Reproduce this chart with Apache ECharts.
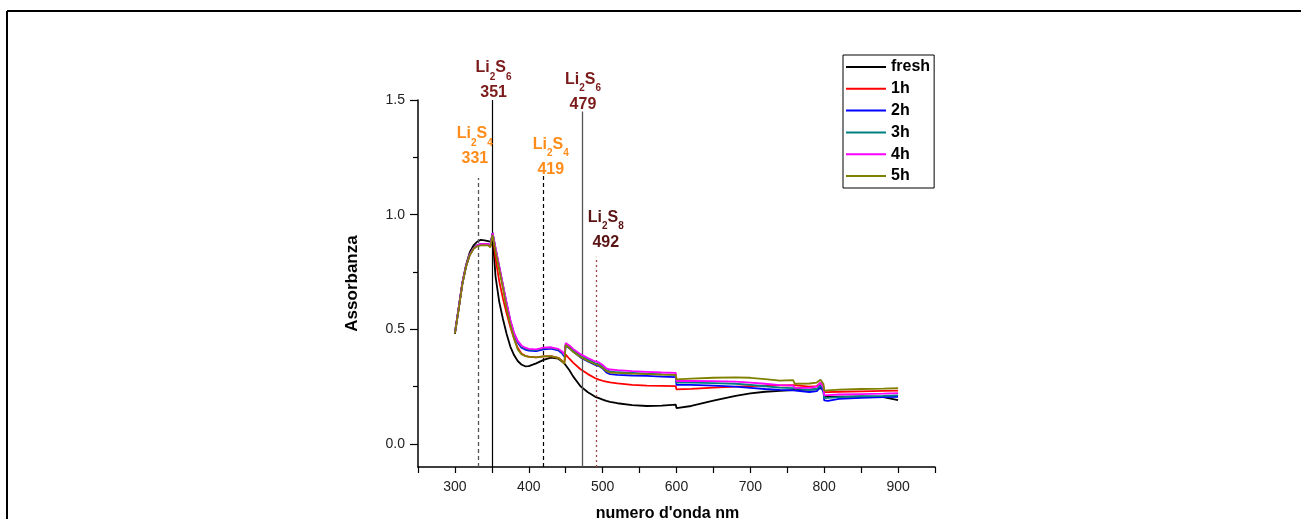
<!DOCTYPE html>
<html>
<head>
<meta charset="utf-8">
<script src="https://cdn.jsdelivr.net/npm/echarts@6/dist/echarts.min.js"></script>
<style>
html,body{margin:0;padding:0;background:#fff;}
#chart{width:1301px;height:519px;}
</style>
</head>
<body>
<div id="chart"></div>
<script>
// ---- data ----
const wavelengths = [300,305,310,315,320,325,330,335,340,345,348,350,351,
  355,360,365,370,375,380,385,390,395,400,
  410,420,430,440,445,448,450,455,460,
  470,480,490,495,500,505,510,520,540,560,580,599,
  600,620,650,680,700,720,740,758,760,780,790,795,799,800,805,820,850,880,900];

const fresh = [0.48,0.59,0.70,0.78,0.835,0.865,0.882,0.89,0.888,0.885,0.882,0.89,0.91,
  0.73,0.62,0.545,0.48,0.425,0.388,0.362,0.347,0.339,0.34,
  0.352,0.367,0.377,0.372,0.36,0.352,0.345,0.322,0.295,
  0.252,0.226,0.206,0.2,0.194,0.188,0.184,0.178,0.17,0.166,0.168,0.172,
  0.157,0.166,0.189,0.21,0.221,0.228,0.232,0.235,0.235,0.237,0.239,0.244,0.236,0.208,0.206,0.207,0.208,0.205,0.192];

const h1 = [0.485,0.59,0.70,0.775,0.825,0.852,0.866,0.872,0.873,0.872,0.862,0.858,0.915,
  0.81,0.71,0.635,0.57,0.51,0.46,0.42,0.395,0.385,0.381,
  0.378,0.382,0.383,0.376,0.363,0.352,0.39,0.372,0.355,
  0.326,0.305,0.287,0.281,0.276,0.272,0.269,0.265,0.258,0.255,0.254,0.253,
  0.238,0.241,0.246,0.25,0.253,0.255,0.256,0.257,0.25,0.25,0.253,0.266,0.25,0.226,0.226,0.228,0.23,0.232,0.233];

const h2 = [0.485,0.59,0.70,0.775,0.825,0.852,0.866,0.872,0.873,0.872,0.864,0.86,0.92,
  0.85,0.77,0.69,0.61,0.535,0.478,0.443,0.42,0.412,0.407,
  0.405,0.413,0.416,0.408,0.396,0.382,0.43,0.418,0.403,
  0.378,0.36,0.345,0.34,0.33,0.312,0.305,0.302,0.299,0.297,0.294,0.292,
  0.258,0.258,0.255,0.25,0.245,0.24,0.236,0.234,0.227,0.227,0.231,0.25,0.228,0.19,0.188,0.197,0.202,0.205,0.206];

const h3 = [0.485,0.59,0.70,0.775,0.825,0.852,0.866,0.872,0.873,0.872,0.864,0.86,0.92,
  0.852,0.772,0.692,0.612,0.538,0.481,0.447,0.425,0.417,0.412,
  0.41,0.418,0.42,0.412,0.4,0.386,0.435,0.423,0.41,
  0.385,0.368,0.352,0.348,0.338,0.322,0.317,0.313,0.31,0.307,0.304,0.302,
  0.268,0.268,0.266,0.263,0.258,0.252,0.246,0.244,0.236,0.236,0.24,0.258,0.235,0.2,0.201,0.205,0.208,0.21,0.212];

const h4 = [0.485,0.59,0.70,0.775,0.825,0.852,0.866,0.872,0.873,0.872,0.866,0.862,0.92,
  0.855,0.775,0.695,0.615,0.542,0.485,0.45,0.43,0.42,0.415,
  0.413,0.42,0.422,0.415,0.404,0.39,0.44,0.43,0.415,
  0.392,0.375,0.36,0.356,0.345,0.33,0.325,0.322,0.318,0.315,0.312,0.31,
  0.275,0.275,0.274,0.272,0.268,0.263,0.257,0.255,0.245,0.245,0.25,0.268,0.245,0.212,0.213,0.216,0.218,0.22,0.222];

const h5 = [0.483,0.585,0.695,0.772,0.822,0.85,0.862,0.866,0.867,0.866,0.858,0.852,0.912,
  0.84,0.76,0.68,0.59,0.52,0.46,0.412,0.392,0.384,0.38,
  0.378,0.382,0.383,0.375,0.362,0.35,0.432,0.418,0.402,
  0.38,0.362,0.348,0.343,0.332,0.318,0.312,0.31,0.307,0.305,0.303,0.302,
  0.282,0.285,0.289,0.291,0.289,0.283,0.277,0.279,0.263,0.264,0.268,0.28,0.262,0.233,0.234,0.237,0.24,0.242,0.244];

const seriesNames = ['fresh','1h','2h','3h','4h','5h'];
const seriesValues = [fresh,h1,h2,h3,h4,h5];

// marker lines (peak assignments)
const markerX = [331, 351, 419, 472, 492];
const markerTop = [1.16, 1.5, 1.17, 1.45, 0.817];
const markerNumber = ['331','351','419','479','492'];
const markerSpecies = [['Li','2','S','4'],['Li','2','S','6'],['Li','2','S','4'],['Li','2','S','6'],['Li','2','S','8']];

const xTickLabels = [300,400,500,600,700,800,900];
const yTickLabels = [0, 0.5, 1.0, 1.5];
const yMinorTicks = [0.25, 0.75, 1.25];

// ---- styles ----
const FONT = "'Liberation Sans', Arial, sans-serif";
const colors = ['#000000','#FF0000','#0000FF','#008080','#FF00FF','#808000'];
const markerStyles = [
  {line:{color:'#555555', type:[4,3], width:1.3}, text:'#FF8C1A', dx:-3, dist:8},
  {line:{color:'#000000', type:'solid', width:1.2}, text:'#7B1A1A', dx:1, dist:-4},
  {line:{color:'#000000', type:[4,3], width:1.2}, text:'#FF8C1A', dx:8, dist:-5},
  {line:{color:'#555555', type:'solid', width:1.3}, text:'#7B1A1A', dx:1, dist:-4},
  {line:{color:'#A04848', type:[2,3], width:1.3}, text:'#5A1414', dx:9, dist:3}
];

const markLineData = markerX.map((x, i) => [
  {coord:[x, -0.1], lineStyle: markerStyles[i].line},
  {coord:[x, markerTop[i]]}
]);

const markPointData = markerX.map((x, i) => {
  const st = markerStyles[i];
  const sp = markerSpecies[i];
  const c = st.text;
  return {
    coord:[x, markerTop[i]],
    symbol:'circle', symbolSize:0,
    label:{
      show:true, position:'top', distance: st.dist, offset:[st.dx, 0],
      formatter: '{m|' + sp[0] + '}{s|' + sp[1] + '}{m|' + sp[2] + '}{s|' + sp[3] + '}\n{n|' + markerNumber[i] + '}',
      rich:{
        m:{fontFamily:FONT, fontSize:16, fontWeight:'bold', color:c, lineHeight:28, verticalAlign:'middle'},
        s:{fontFamily:FONT, fontSize:10, fontWeight:'bold', color:c, lineHeight:10, verticalAlign:'bottom'},
        n:{fontFamily:FONT, fontSize:16, fontWeight:'bold', color:c, lineHeight:22, align:'center'}
      }
    }
  };
});

const series = seriesNames.map((name, k) => ({
  name: name,
  type: 'line',
  data: wavelengths.map((w, i) => [w, seriesValues[k][i]]),
  symbol: 'none',
  showSymbol: false,
  lineStyle: {color: colors[k], width: 1.8},
  itemStyle: {color: colors[k]},
  z: 3 + k
}));

series.push({
  name: 'markers',
  type: 'line',
  data: [],
  symbol: 'none',
  z: 2,
  markLine: {
    silent: true, symbol: ['none','none'], animation:false,
    label: {show:false},
    data: markLineData
  },
  markPoint: {
    silent: true, animation:false,
    data: markPointData
  }
});

const chart = echarts.init(document.getElementById('chart'), null, {renderer:'canvas'});
chart.setOption({
  animation: false,
  backgroundColor: '#ffffff',
  textStyle: {fontFamily: FONT},
  grid: {left: 418, right: 366, top: 100, bottom: 52, containLabel: false, outerBoundsMode: 'none'},
  legend: {
    data: seriesNames,
    orient: 'vertical',
    left: 843, top: 55,
    padding: [4, 4, 4, 2],
    itemWidth: 40, itemHeight: 16, itemGap: 5.8,
    borderColor: '#000', borderWidth: 1, backgroundColor:'#fff',
    selectedMode: false,
    itemStyle: {color: 'rgba(0,0,0,0)', borderColor: 'rgba(0,0,0,0)', borderWidth: 0},
    lineStyle: {width: 2},
    textStyle: {fontFamily: FONT, fontSize: 16, fontWeight: 'bold', color: '#000'}
  },
  xAxis: {
    type: 'value', min: 250, max: 950, interval: 50,
    name: "numero d'onda nm", nameLocation: 'middle', nameGap: 39,
    nameTextStyle: {fontFamily: FONT, fontSize: 16, fontWeight: 'bold', color: '#000', padding:[0,18,0,0]},
    axisLine: {show: true, onZero: false, lineStyle: {color: '#000', width: 1.5}},
    axisTick: {show: true, length: 6, lineStyle: {color: '#000', width: 1.2}},
    axisLabel: {customValues: xTickLabels, margin: 13, fontFamily: FONT, fontSize: 14, color: '#222'},
    splitLine: {show: false}
  },
  yAxis: [{
    type: 'value', min: -0.1, max: 1.5,
    name: 'Assorbanza', nameLocation: 'middle', nameGap: 57, nameRotate: 90,
    nameTextStyle: {fontFamily: FONT, fontSize: 17, fontWeight: 'bold', color: '#000'},
    axisLine: {show: true, onZero: false, lineStyle: {color: '#000', width: 1.5}},
    axisTick: {show: true, length: 8, customValues: yTickLabels, lineStyle: {color: '#000', width: 1.2}},
    axisLabel: {customValues: yTickLabels, margin: 13, fontFamily: FONT, fontSize: 14, color: '#222',
      formatter: v => Number(v).toFixed(1)},
    splitLine: {show: false}
  }, {
    type: 'value', min: -0.1, max: 1.5, position: 'left',
    axisLine: {show: false},
    axisTick: {show: true, length: 5, customValues: yMinorTicks, lineStyle: {color: '#000', width: 1.2}},
    axisLabel: {show: false},
    splitLine: {show: false}
  }],
  graphic: [
    {type: 'line', shape: {x1: 7, y1: 11, x2: 1301, y2: 11}, style: {stroke: '#000', lineWidth: 2}, silent: true},
    {type: 'line', shape: {x1: 7, y1: 11, x2: 7, y2: 519}, style: {stroke: '#000', lineWidth: 2}, silent: true}
  ],
  series: series
});
</script>
</body>
</html>
